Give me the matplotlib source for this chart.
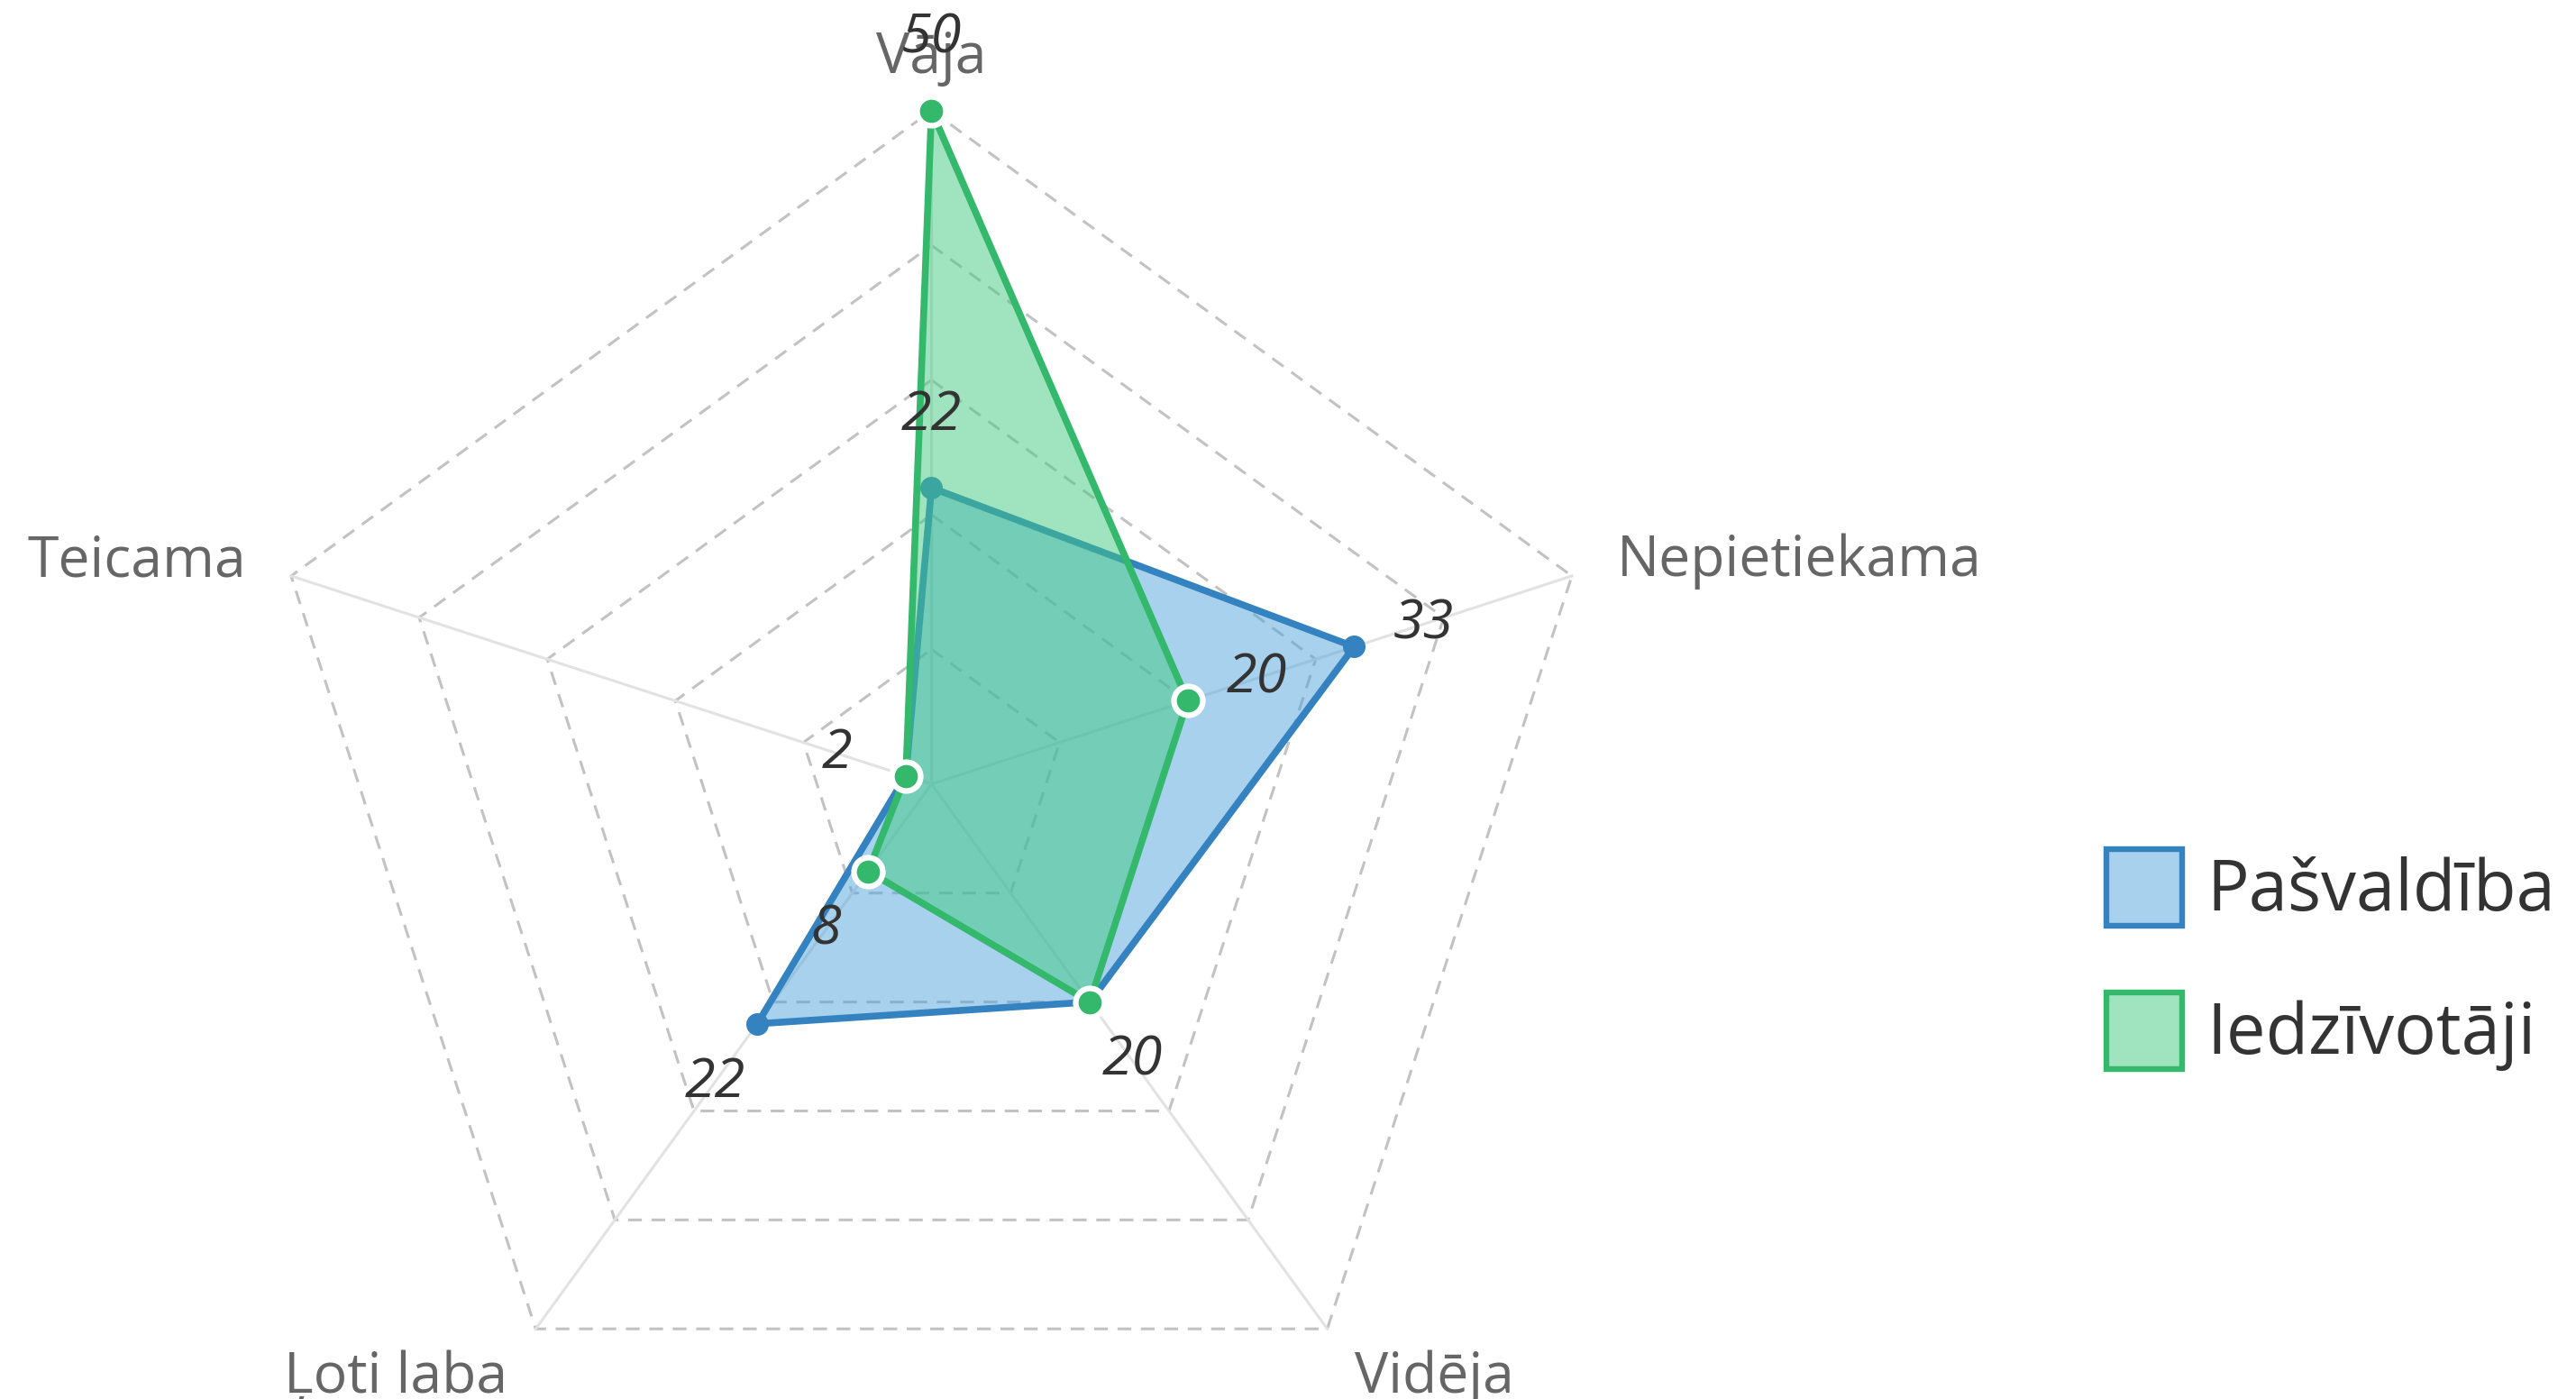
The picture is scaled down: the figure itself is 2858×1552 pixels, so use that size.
import numpy as np
import matplotlib
matplotlib.use('Agg')  # sin entorno gráfico
import matplotlib.pyplot as plt
from matplotlib.patches import Patch
from matplotlib.colors import to_rgba

# === Datos ===
categorias = ["Vāja", "Nepietiekama", "Vidēja", "Ļoti laba", "Teicama"]
pasvaldiba = [22, 33, 20, 22, 2]
iedzivotaji = [50, 20, 20, 8, 2]
nombres = ["Pašvaldība", "Iedzīvotāji"]
anillos = [10, 20, 30, 40, 50]
r_max = 50

# === Colores ===
azul_linea = "#3482c0"
azul_relleno = "#52a4de"
verde_linea = "#33b86c"
verde_relleno = "#41cb7f"
fuente = "Open Sans"

n = len(categorias)
theta = np.linspace(0, 2 * np.pi, n, endpoint=False)
theta_c = np.append(theta, theta[0])

fig = plt.figure(figsize=(28.58, 15.52), dpi=100)
ax = fig.add_axes([0.1002, -0.0418, 0.5228, 0.9627], projection="polar")
ax.set_theta_offset(np.pi / 2)
ax.set_theta_direction(-1)
ax.set_ylim(0, r_max)
ax.axis("off")

# === Rejilla (pentágonos discontinuos + radios) ===
for r in anillos:
    ax.plot(theta_c, [r] * (n + 1), color="#c2c2c2", lw=2.2,
            linestyle=(0, (5, 3.5)), zorder=1, clip_on=False)
for t in theta:
    ax.plot([t, t], [0, r_max], color="#e2e2e2", lw=2.2, zorder=1, clip_on=False)

# === Series ===
def dibujar(valores, c_linea, c_relleno, z, borde):
    v = np.append(valores, valores[0])
    ax.fill(theta_c, v, color=c_relleno, alpha=0.5, lw=0, zorder=z, clip_on=False)
    ax.plot(theta_c, v, color=c_linea, lw=5.5, zorder=z + 1, clip_on=False)
    if borde:
        ax.plot(theta, valores, "o", ms=23, color=c_linea, mec="white",
                mew=4.5, zorder=z + 2, clip_on=False)
    else:
        ax.plot(theta, valores, "o", ms=18, color=c_linea, mew=0,
                zorder=z + 2, clip_on=False)

dibujar(pasvaldiba, azul_linea, azul_relleno, 2, False)
dibujar(iedzivotaji, verde_linea, verde_relleno, 5, True)

# === Etiquetas de datos ===
desp = 58
for i, t in enumerate(theta):
    etiquetas = [iedzivotaji[i]]
    if pasvaldiba[i] != iedzivotaji[i]:
        etiquetas.append(pasvaldiba[i])
    for v in etiquetas:
        ax.annotate(str(v), xy=(t, v), xytext=(desp * np.sin(t), desp * np.cos(t)),
                    textcoords="offset points", ha="center", va="center",
                    fontsize=44, fontstyle="italic", family=fuente,
                    color="#333333", zorder=10, annotation_clip=False)

# === Etiquetas de ejes (ha, va, radio, desplazamiento vertical en pt) ===
alineacion = [("center", "bottom", 51.8, 0), ("left", "center", 53.5, 0),
              ("left", "top", 53.5, 14), ("right", "top", 53.5, 14),
              ("right", "center", 53.5, 0)]
for t, nombre, (ha, va, r_txt, dy) in zip(theta, categorias, alineacion):
    ax.annotate(nombre, xy=(t, r_txt), xytext=(0, dy), textcoords="offset points",
                ha=ha, va=va, fontsize=45, family=fuente,
                color="#666666", zorder=9, annotation_clip=False)

# === Leyenda ===
handles = [
    Patch(facecolor=to_rgba(azul_relleno, 0.5), edgecolor=azul_linea, linewidth=4.6),
    Patch(facecolor=to_rgba(verde_relleno, 0.5), edgecolor=verde_linea, linewidth=4.6),
]
fig.legend(handles, nombres, loc="center left", bbox_to_anchor=(0.804, 0.3137),
           frameon=False, borderpad=0, handlelength=1.09, handleheight=1.30,
           handletextpad=0.35, labelspacing=0.92,
           prop={"family": fuente, "size": 56}, labelcolor="#333333")

fig.savefig("out.png", dpi=100, facecolor="white")
